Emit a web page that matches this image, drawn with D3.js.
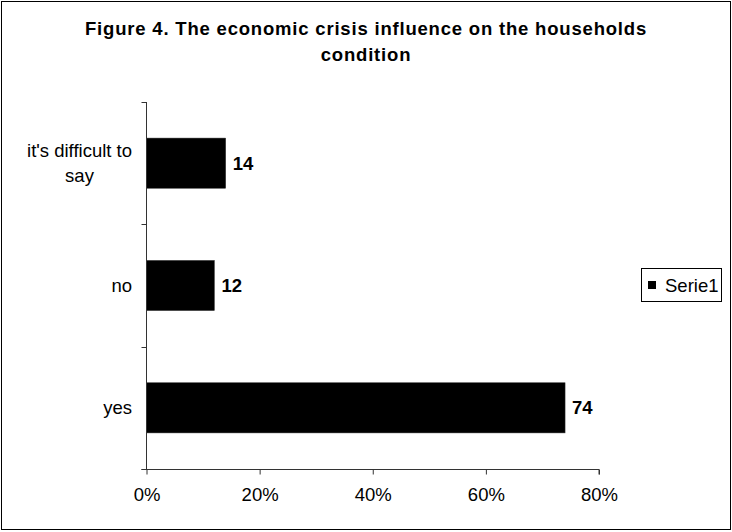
<!DOCTYPE html>
<html>
<head>
<meta charset="utf-8">
<script src="https://cdn.jsdelivr.net/npm/d3@7"></script>
<style>
  body { margin: 0; background: #fff; }
  svg text { font-family: Arial, "Liberation Sans", sans-serif; fill: #000; }
</style>
</head>
<body>
<div id="container"></div>
<script>
// values
var categories = ["it's difficult to say", "no", "yes"];
var values = [14, 12, 74];
var xTicks = [0, 20, 40, 60, 80];
var seriesName = "Serie1";
var titleLines = ["Figure 4. The economic crisis influence on the households", "condition"];

var width = 732, height = 532;

var svg = d3.select('#container').append('svg')
	.attr('width', width)
	.attr('height', height);

svg.append('rect')
	.attr('x', 1.5).attr('y', 1.5)
	.attr('width', 729).attr('height', 528)
	.attr('fill', '#fff')
	.attr('stroke', '#000')
	.attr('stroke-width', 1);

// title, stretched a little like the original
var title = svg.append('g').attr('class', 'title');
var t1 = title.append('text')
	.attr('x', 366).attr('y', 35)
	.attr('text-anchor', 'middle')
	.style('font-weight', 'bold')
	.style('font-size', '18.5px')
	.text(titleLines[0]);
var natural = t1.node().getComputedTextLength();
var spacing = (562 - natural) / titleLines[0].length;
t1.style('letter-spacing', spacing + 'px');
title.append('text')
	.attr('x', 366).attr('y', 61)
	.attr('text-anchor', 'middle')
	.style('font-weight', 'bold')
	.style('font-size', '18.5px')
	.style('letter-spacing', spacing + 'px')
	.text(titleLines[1]);

var x = d3.scaleLinear()
	.domain([0, 80])
	.range([146.5, 599]);

var y = d3.scaleBand()
	.domain(categories)
	.range([102, 469])
	.paddingInner(0.59)
	.paddingOuter(0.295);

// bars
svg.selectAll('.bar')
	.data(values)
	.enter()
	.append('rect')
	.attr('class', 'bar')
	.attr('x', x(0))
	.attr('y', (d, i) => y(categories[i]))
	.attr('width', d => x(d) - x(0))
	.attr('height', y.bandwidth())
	.attr('fill', '#000')
	.attr('stroke', '#333')
	.attr('stroke-width', 0.5);

// value labels
svg.selectAll('.val')
	.data(values)
	.enter()
	.append('text')
	.attr('class', 'val')
	.attr('x', d => x(d) + 7)
	.attr('y', (d, i) => y(categories[i]) + y.bandwidth() / 2)
	.attr('dy', '0.35em')
	.style('font-weight', 'bold')
	.style('font-size', '18.5px')
	.text(d => d);

// x axis
var xAxis = svg.append('g')
	.attr('transform', 'translate(0,469.5)')
	.call(d3.axisBottom(x).tickValues(xTicks).tickSize(5).tickPadding(13).tickFormat(d => d + '%'));
xAxis.select('.domain').attr('stroke', '#333').attr('d', 'M' + (x(0) - 5) + ',0H' + x(80) + 'V5');
xAxis.selectAll('.tick line').attr('stroke', '#333');
xAxis.selectAll('.tick text').style('font-size', '18.5px').attr('fill', '#000').style('font-family', 'Arial, "Liberation Sans", sans-serif');

// y axis: line with ticks on the band edges
var yEdges = categories.map(c => y(c) - y.step() * y.paddingInner() / 2).concat([469]);
var yAxis = svg.append('g').attr('class', 'y-axis');
yAxis.append('line')
	.attr('x1', 146.5).attr('x2', 146.5)
	.attr('y1', 102).attr('y2', 469.5)
	.attr('stroke', '#333');
yAxis.selectAll('.ytick')
	.data(yEdges)
	.enter()
	.append('line')
	.attr('x1', 141.5).attr('x2', 146.5)
	.attr('y1', d => Math.round(d) + 0.5)
	.attr('y2', d => Math.round(d) + 0.5)
	.attr('stroke', '#333');

// category labels, wrapped lines centred on each other
var labelLines = {"it's difficult to say": ["it's difficult to", "say"]};
categories.forEach(c => {
	var lines = labelLines[c] || [c];
	var cy = y(c) + y.bandwidth() / 2;
	var g = yAxis.append('text')
		.style('font-size', '18.5px')
		.attr('text-anchor', 'middle');
	var spans = lines.map((l, i) => g.append('tspan').text(l));
	var w = d3.max(spans, s => s.node().getComputedTextLength());
	var cx = 132 - w / 2;
	var first = cy + 6.5 - (lines.length - 1) * 12.7;
	spans.forEach((s, i) => s.attr('x', cx).attr('y', first + i * 25.5));
});

// legend
var legend = svg.append('g').attr('class', 'legend');
legend.append('rect')
	.attr('x', 641.5).attr('y', 268.5)
	.attr('width', 80).attr('height', 33)
	.attr('fill', '#fff')
	.attr('stroke', '#000');
legend.append('rect')
	.attr('x', 648).attr('y', 281)
	.attr('width', 8).attr('height', 8)
	.attr('fill', '#000');
legend.append('text')
	.attr('x', 665).attr('y', 291.5)
	.style('font-size', '18.5px')
	.text(seriesName);
</script>
</body>
</html>
